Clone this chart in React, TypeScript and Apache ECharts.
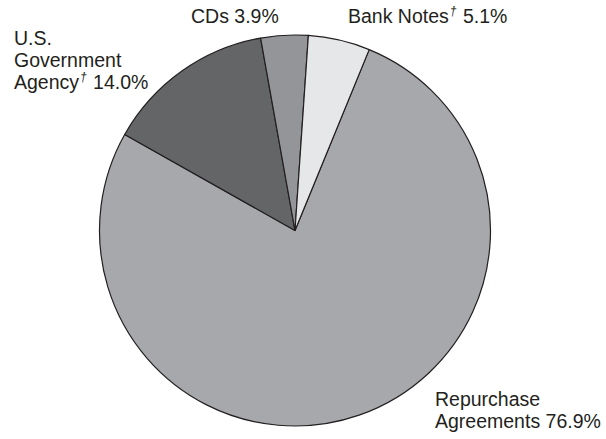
import React, { useEffect, useRef } from "react";
import * as echarts from "echarts";

const categories = ["Repurchase Agreements", "U.S. Government Agency", "CDs", "Bank Notes"];
const values = [76.9, 14.0, 3.9, 5.1];
const colors = ["#a7a8ab", "#646567", "#939598", "#e6e7e8"];

export default function App() {
  const ref = useRef<HTMLDivElement>(null);
  useEffect(() => {
    if (!ref.current) return;
    const chart = echarts.init(ref.current, undefined, { renderer: "svg" });
    const fmt = (v: number) => v.toFixed(1) + "%";
    const font = "'Liberation Sans', Arial, Helvetica, sans-serif";
    const base = { fontSize: 19.5, lineHeight: 22, fill: "#231f20", fontFamily: font };
    const rich = {
      t: { fontSize: 19.5, lineHeight: 22, color: "#231f20", fontFamily: font },
      sup: {
        fontSize: 12,
        lineHeight: 22,
        fontStyle: "italic",
        color: "#231f20",
        fontFamily: font,
        verticalAlign: "top",
        padding: [0, 1, 6, 1],
      },
    };
    const option: any = {
      animation: false,
      backgroundColor: "#ffffff",
      series: [
        {
          type: "pie",
          center: [295, 230.5],
          radius: 195.5,
          startAngle: 67.7,
          clockwise: true,
          label: { show: false },
          labelLine: { show: false },
          silent: true,
          data: categories.map((c, i) => ({
            name: c,
            value: values[i],
            itemStyle: { color: colors[i], borderColor: "#231f20", borderWidth: 1.2 },
          })),
        },
      ],
      graphic: [
        {
          type: "text",
          left: 14,
          top: 27,
          style: {
            ...base,
            text: "{t|U.S.}\n{t|Government}\n{t|Agency}{sup|†}{t| " + fmt(values[1]) + "}",
            rich,
          },
        },
        {
          type: "text",
          left: 191,
          top: 5,
          style: { ...base, text: "{t|" + categories[2] + " " + fmt(values[2]) + "}", rich },
        },
        {
          type: "text",
          left: 348,
          top: 5,
          style: {
            ...base,
            text: "{t|Bank Notes}{sup|†}{t| " + fmt(values[3]) + "}",
            rich,
          },
        },
        {
          type: "text",
          left: 435,
          top: 388,
          style: {
            ...base,
            text: "{t|Repurchase}\n{t|Agreements " + fmt(values[0]) + "}",
            rich,
          },
        },
      ],
    };
    chart.setOption(option);
    return () => chart.dispose();
  }, []);
  return (
    <div
      ref={ref}
      style={{ position: "absolute", left: 0, top: 0, width: 606, height: 439 }}
    />
  );
}
